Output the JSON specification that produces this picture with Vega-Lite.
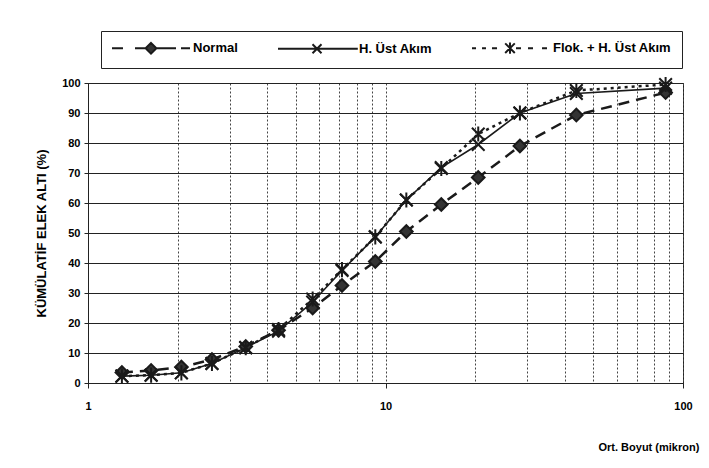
{
  "$schema": "https://vega.github.io/schema/vega-lite/v6.json",
  "width": 595,
  "height": 300,
  "autosize": "none",
  "padding": {"left": 88, "top": 83, "right": 26, "bottom": 85},
  "background": "white",
  "config": {
    "font": "Liberation Sans",
    "view": {"stroke": "#222", "strokeWidth": 1}
  },
  "data": {
    "values": [
      {"series": "Normal", "size": 1.3, "pct": 3.5},
      {"series": "Normal", "size": 1.63, "pct": 4.2},
      {"series": "Normal", "size": 2.06, "pct": 5.3},
      {"series": "Normal", "size": 2.61, "pct": 7.8},
      {"series": "Normal", "size": 3.39, "pct": 12.2},
      {"series": "Normal", "size": 4.37, "pct": 17.6},
      {"series": "Normal", "size": 5.69, "pct": 25},
      {"series": "Normal", "size": 7.14, "pct": 32.5},
      {"series": "Normal", "size": 9.24, "pct": 40.5},
      {"series": "Normal", "size": 11.75, "pct": 50.5},
      {"series": "Normal", "size": 15.4, "pct": 59.5},
      {"series": "Normal", "size": 20.5, "pct": 68.5},
      {"series": "Normal", "size": 28.3, "pct": 79},
      {"series": "Normal", "size": 43.8, "pct": 89.3},
      {"series": "Normal", "size": 87.4, "pct": 96.8},
      {"series": "H. Üst Akım", "size": 1.3, "pct": 2.3},
      {"series": "H. Üst Akım", "size": 1.63, "pct": 2.6},
      {"series": "H. Üst Akım", "size": 2.06, "pct": 3.4},
      {"series": "H. Üst Akım", "size": 2.61, "pct": 6.5},
      {"series": "H. Üst Akım", "size": 3.39, "pct": 11.8},
      {"series": "H. Üst Akım", "size": 4.37, "pct": 17.3},
      {"series": "H. Üst Akım", "size": 5.69, "pct": 27},
      {"series": "H. Üst Akım", "size": 7.14, "pct": 37.5},
      {"series": "H. Üst Akım", "size": 9.24, "pct": 48.7},
      {"series": "H. Üst Akım", "size": 11.75, "pct": 61},
      {"series": "H. Üst Akım", "size": 15.4, "pct": 71.8},
      {"series": "H. Üst Akım", "size": 20.5, "pct": 79.5},
      {"series": "H. Üst Akım", "size": 28.3, "pct": 90},
      {"series": "H. Üst Akım", "size": 43.8, "pct": 96.5},
      {"series": "H. Üst Akım", "size": 87.4, "pct": 98.3},
      {"series": "Flok. + H. Üst Akım", "size": 1.3, "pct": 2.3},
      {"series": "Flok. + H. Üst Akım", "size": 1.63, "pct": 2.6},
      {"series": "Flok. + H. Üst Akım", "size": 2.06, "pct": 3.4},
      {"series": "Flok. + H. Üst Akım", "size": 2.61, "pct": 6.5},
      {"series": "Flok. + H. Üst Akım", "size": 3.39, "pct": 11.8},
      {"series": "Flok. + H. Üst Akım", "size": 4.37, "pct": 17.8},
      {"series": "Flok. + H. Üst Akım", "size": 5.69, "pct": 28},
      {"series": "Flok. + H. Üst Akım", "size": 7.14, "pct": 37.8},
      {"series": "Flok. + H. Üst Akım", "size": 9.24, "pct": 48.7},
      {"series": "Flok. + H. Üst Akım", "size": 11.75, "pct": 61},
      {"series": "Flok. + H. Üst Akım", "size": 15.4, "pct": 71.5},
      {"series": "Flok. + H. Üst Akım", "size": 20.5, "pct": 83},
      {"series": "Flok. + H. Üst Akım", "size": 28.3, "pct": 90},
      {"series": "Flok. + H. Üst Akım", "size": 43.8, "pct": 97.5},
      {"series": "Flok. + H. Üst Akım", "size": 87.4, "pct": 99.5}
    ]
  },
  "encoding": {
    "x": {
      "field": "size",
      "type": "quantitative",
      "scale": {"type": "log", "domain": [1, 100], "nice": false},
      "axis": {
        "title": "Ort. Boyut (mikron)",
        "values": [1, 2, 3, 4, 5, 6, 7, 8, 9, 10, 20, 30, 40, 50, 60, 70, 80, 90, 100],
        "labelExpr": "datum.value == 1 || datum.value == 10 || datum.value == 100 ? format(datum.value, 'd') : ''",
        "labelOverlap": false,
        "labelFlush": false,
        "grid": true,
        "gridDash": [2, 2],
        "gridColor": "#444",
        "gridWidth": 1,
        "gridOpacity": 1,
        "tickOpacity": {"condition": {"test": "datum.value == 1 || datum.value == 10 || datum.value == 100", "value": 1}, "value": 0},
        "tickSize": 5,
        "tickColor": "#222",
        "domainColor": "#222",
        "labelPadding": 12,
        "labelFontWeight": "bold",
        "labelFontSize": 11,
        "labelColor": "#000",
        "titleX": 510,
        "titleY": 64,
        "titleAnchor": "start",
        "titleAlign": "left",
        "titleBaseline": "middle",
        "titleFontSize": 11,
        "titleFontWeight": "bold",
        "titleColor": "#000"
      }
    },
    "y": {
      "field": "pct",
      "type": "quantitative",
      "scale": {"domain": [0, 100], "nice": false},
      "axis": {
        "title": "KÜMÜLATİF ELEK ALTI (%)",
        "values": [0, 10, 20, 30, 40, 50, 60, 70, 80, 90, 100],
        "grid": true,
        "gridColor": "#222",
        "gridWidth": 1,
        "gridOpacity": 1,
        "tickSize": 4,
        "tickColor": "#222",
        "domainColor": "#222",
        "labelPadding": 4,
        "labelFontWeight": "bold",
        "labelFontSize": 11,
        "labelColor": "#000",
        "titleFontSize": 13,
        "titleFontWeight": "bold",
        "titleColor": "#000",
        "titlePadding": 13
      }
    }
  },
  "resolve": {"scale": {"shape": "independent"}, "legend": {"shape": "independent"}},
  "layer": [
    {
      "transform": [{"filter": "datum.series == 'Normal'"}],
      "mark": {"type": "line", "color": "#1a1a1a", "strokeWidth": 2.5, "strokeDash": [11, 7]},
      "encoding": {}
    },
    {
      "transform": [{"filter": "datum.series == 'H. Üst Akım'"}],
      "mark": {"type": "line", "color": "#1a1a1a", "strokeWidth": 1.6},
      "encoding": {}
    },
    {
      "transform": [{"filter": "datum.series == 'Flok. + H. Üst Akım'"}],
      "mark": {"type": "line", "color": "#1a1a1a", "strokeWidth": 2.5, "strokeDash": [3, 4]},
      "encoding": {}
    },
    {
      "mark": {"type": "point", "filled": true, "fill": "#333", "stroke": "#1a1a1a", "strokeWidth": 2, "size": 160, "opacity": 1},
      "encoding": {
        "shape": {
          "field": "series",
          "type": "nominal",
          "scale": {
            "domain": ["H. Üst Akım", "Normal", "Flok. + H. Üst Akım"],
            "range": ["M-1,-1L1,1M-1,1L1,-1", "diamond", "M-1,-1L1,1M-1,1L1,-1M0,-1.2L0,1.2"]
          },
          "legend": null
        }
      }
    },
    {
      "mark": {"type": "point", "filled": false, "fill": "#333", "stroke": "#1a1a1a", "color": "#1a1a1a", "strokeWidth": 2, "size": 144, "opacity": 0},
      "encoding": {
        "shape": {
          "field": "series",
          "type": "nominal",
          "scale": {
            "domain": ["Normal", "H. Üst Akım", "Flok. + H. Üst Akım"],
            "range": [
              "M-1,0H0.83M2.83,0H4.6M6.4,0H9.67M10.5,0H12M5.5,-0.9L6.4,0L5.5,0.9L4.6,0Z",
              "M-1,0H12.3M4.75,-0.75L6.25,0.75M4.75,0.75L6.25,-0.75",
              "M-1,0H-0.33M0.67,0H1.33M2.33,0H3.17M4.53,-0.8L6.13,0.8M4.53,0.8L6.13,-0.8M5.33,-0.95L5.33,0.95M6.33,0H7.17M8.33,0H9.17M10.67,0H11.5"
            ]
          },
          "legend": {
            "title": null,
            "orient": "none",
            "legendX": 13,
            "legendY": -52,
            "direction": "horizontal",
            "fillColor": "white",
            "strokeColor": "#222",
            "padding": 10,
            "symbolSize": 144,
            "labelOffset": 68,
            "columnPadding": 36,
            "labelFontSize": 13,
            "labelFontWeight": "bold",
            "labelColor": "#000",
            "symbolStrokeWidth": 2,
            "symbolOpacity": 1
          }
        }
      }
    }
  ]
}
